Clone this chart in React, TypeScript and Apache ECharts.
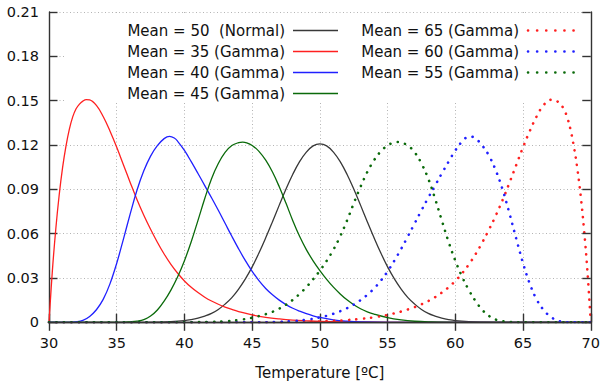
import React, { useEffect, useRef } from "react";
import * as echarts from "echarts";

const X_MIN = 30;
const X_MAX = 70;
const X_STEP = 5;
const Y_MIN = 0;
const Y_MAX = 0.21;
const Y_STEP = 0.03;

const xTitle = "Temperature [ºC]";

// Mean = 50 (Normal)
const normal50: number[][] = [
  [30, 0], [37, 0], [38, 0.0001], [39, 0.0004], [40, 0.0011], [40.5, 0.0018], [41, 0.0028],
  [41.5, 0.0042], [42, 0.006], [42.5, 0.0087], [43, 0.0123], [43.5, 0.0167], [44, 0.0225],
  [44.5, 0.0294], [45, 0.0375], [45.5, 0.0469], [46, 0.0572], [46.5, 0.0681], [47, 0.0793],
  [47.5, 0.0902], [48, 0.1002], [48.5, 0.1087], [49, 0.1152], [49.5, 0.1194], [50, 0.1208],
  [50.5, 0.1194], [51, 0.1152], [51.5, 0.1087], [52, 0.1002], [52.5, 0.0902], [53, 0.0793],
  [53.5, 0.0681], [54, 0.0572], [54.5, 0.0469], [55, 0.0375], [55.5, 0.0294], [56, 0.0225],
  [56.5, 0.0167], [57, 0.0123], [57.5, 0.0087], [58, 0.006], [58.5, 0.0042], [59, 0.0028],
  [59.5, 0.0018], [60, 0.0011], [61, 0.0004], [62, 0.0001], [63, 0], [70, 0],
];

// Mean = 35 (Gamma)
const gamma35: number[][] = [
  [30, 0], [30.25, 0.035], [30.5, 0.063], [30.75, 0.086], [31, 0.1045], [31.25, 0.119],
  [31.5, 0.1305], [31.75, 0.139], [32, 0.1445], [32.25, 0.1477], [32.5, 0.1497],
  [32.75, 0.1507], [33, 0.1505], [33.5, 0.1468], [34, 0.1393], [34.5, 0.1295], [35, 0.1185],
  [35.5, 0.1065], [36, 0.0945], [36.5, 0.083], [37, 0.0725], [37.5, 0.063], [38, 0.0542],
  [38.5, 0.0462], [39, 0.0392], [39.5, 0.0332], [40, 0.028], [40.5, 0.0237], [41, 0.0201],
  [41.5, 0.017], [42, 0.0144], [42.5, 0.0122], [43, 0.0103], [43.5, 0.0087], [44, 0.0073],
  [45, 0.005], [46, 0.0034], [47, 0.0023], [48, 0.0015], [49, 0.001], [50, 0.0006],
  [52, 0.0002], [55, 0], [70, 0],
];

// Mean = 40 (Gamma)
const gamma40: number[][] = [
  [30, 0], [31.5, 0], [32, 0.0003], [32.5, 0.0013], [33, 0.004], [33.5, 0.0085], [34, 0.0155],
  [34.5, 0.026], [35, 0.04], [35.5, 0.0565], [36, 0.0735], [36.5, 0.0895], [37, 0.1025],
  [37.5, 0.1125], [38, 0.1195], [38.5, 0.1243], [38.9, 0.1258], [39.25, 0.1247], [39.5, 0.1225],
  [40, 0.1163], [40.5, 0.1087], [41, 0.1007], [41.5, 0.0925], [42, 0.0843], [42.5, 0.0758],
  [43, 0.067], [43.5, 0.0582], [44, 0.0497], [44.5, 0.0417], [45, 0.0345], [45.5, 0.0282],
  [46, 0.0229], [46.5, 0.0186], [47, 0.015], [47.5, 0.012], [48, 0.0095], [48.5, 0.0075],
  [49, 0.0058], [49.5, 0.0044], [50, 0.0033], [51, 0.0017], [52, 0.0008], [53, 0.0003],
  [55, 0], [70, 0],
];

// Mean = 45 (Gamma)
const gamma45: number[][] = [
  [30, 0], [35.5, 0], [36, 0.0003], [36.5, 0.0008], [37, 0.0018], [37.5, 0.0042], [38, 0.0083],
  [38.5, 0.0143], [39, 0.0218], [39.5, 0.0308], [40, 0.0417], [40.5, 0.0545], [41, 0.069],
  [41.5, 0.0838], [42, 0.0972], [42.5, 0.1075], [43, 0.115], [43.5, 0.1196], [44, 0.1216],
  [44.3, 0.122], [44.6, 0.1215], [45, 0.1197], [45.5, 0.1157], [46, 0.1097], [46.5, 0.1017],
  [47, 0.0917], [47.5, 0.0805], [48, 0.0688], [48.5, 0.0582], [49, 0.0492], [49.5, 0.0416],
  [50, 0.035], [50.5, 0.0291], [51, 0.0238], [51.5, 0.0192], [52, 0.0152], [52.5, 0.0119],
  [53, 0.0092], [53.5, 0.0071], [54, 0.0055], [55, 0.0031], [56, 0.0016], [57, 0.0007],
  [58, 0.0003], [60, 0], [70, 0],
];

// Mean = 65 (Gamma)
const gamma65: number[][] = [
  [30, 0], [45, 0], [48, 0.0002], [50, 0.0006], [51, 0.001], [52, 0.0015], [53, 0.0023],
  [54, 0.0034], [55, 0.005], [56, 0.0073], [56.5, 0.0087], [57, 0.0103], [57.5, 0.0122],
  [58, 0.0144], [58.5, 0.017], [59, 0.0201], [59.5, 0.0237], [60, 0.028], [60.5, 0.0332],
  [61, 0.0392], [61.5, 0.0462], [62, 0.0542], [62.5, 0.063], [63, 0.0725], [63.5, 0.083],
  [64, 0.0945], [64.5, 0.1065], [65, 0.1185], [65.5, 0.1295], [66, 0.1393], [66.5, 0.1468],
  [67, 0.1505], [67.25, 0.1507], [67.5, 0.1497], [67.75, 0.1477], [68, 0.1445],
  [68.25, 0.139], [68.5, 0.1305], [68.75, 0.119], [69, 0.1045], [69.25, 0.086],
  [69.5, 0.063], [69.75, 0.035], [70, 0],
];

// Mean = 60 (Gamma)
const gamma60: number[][] = [
  [30, 0], [45, 0], [47, 0.0003], [48, 0.0008], [49, 0.0017], [50, 0.0033], [50.5, 0.0044],
  [51, 0.0058], [51.5, 0.0075], [52, 0.0095], [52.5, 0.012], [53, 0.015], [53.5, 0.0186],
  [54, 0.0229], [54.5, 0.0282], [55, 0.0345], [55.5, 0.0417], [56, 0.0497], [56.5, 0.0582],
  [57, 0.067], [57.5, 0.0758], [58, 0.0843], [58.5, 0.0925], [59, 0.1007], [59.5, 0.1087],
  [60, 0.1163], [60.5, 0.1225], [60.75, 0.1247], [61.1, 0.1258], [61.5, 0.1243], [62, 0.1195],
  [62.5, 0.1125], [63, 0.1025], [63.5, 0.0895], [64, 0.0735], [64.5, 0.0565], [65, 0.04],
  [65.5, 0.026], [66, 0.0155], [66.5, 0.0085], [67, 0.004], [67.5, 0.0013], [68, 0.0003],
  [68.5, 0], [70, 0],
];

// Mean = 55 (Gamma)
const gamma55: number[][] = [
  [30, 0], [40, 0], [42, 0.0003], [43, 0.0007], [44, 0.0016], [45, 0.0031], [46, 0.0055],
  [46.5, 0.0071], [47, 0.0092], [47.5, 0.0119], [48, 0.0152], [48.5, 0.0192], [49, 0.0238],
  [49.5, 0.0291], [50, 0.035], [50.5, 0.0416], [51, 0.0492], [51.5, 0.0582], [52, 0.0688],
  [52.5, 0.0805], [53, 0.0917], [53.5, 0.1017], [54, 0.1097], [54.5, 0.1157], [55, 0.1197],
  [55.4, 0.1215], [55.7, 0.122], [56, 0.1216], [56.5, 0.1196], [57, 0.115], [57.5, 0.1075],
  [58, 0.0972], [58.5, 0.0838], [59, 0.069], [59.5, 0.0545], [60, 0.0417], [60.5, 0.0308],
  [61, 0.0218], [61.5, 0.0143], [62, 0.0083], [62.5, 0.0042], [63, 0.0018], [63.5, 0.0008],
  [64, 0.0003], [64.5, 0], [70, 0],
];

const seriesNames = [
  "Mean = 50  (Normal)",
  "Mean = 35 (Gamma)",
  "Mean = 40 (Gamma)",
  "Mean = 45 (Gamma)",
  "Mean = 65 (Gamma)",
  "Mean = 60 (Gamma)",
  "Mean = 55 (Gamma)",
];
const seriesData = [normal50, gamma35, gamma40, gamma45, gamma65, gamma60, gamma55];
const seriesColors = ["#383838", "#ff2020", "#2020ff", "#0a6a0a", "#ff2020", "#2020ff", "#0a6a0a"];
const seriesDotted = [false, false, false, false, true, true, true];

const FONT = "'DejaVu Sans', Verdana, sans-serif";
const AXIS_COLOR = "#333";

export default function App() {
  const ref = useRef<HTMLDivElement>(null);

  useEffect(() => {
    if (!ref.current) return;
    const chart = echarts.init(ref.current, undefined, { renderer: "svg" });

    const series = seriesData.map((d, i) => ({
      name: seriesNames[i],
      type: "line",
      data: d,
      xAxisIndex: 0,
      yAxisIndex: 0,
      smooth: 0.4,
      showSymbol: false,
      symbol: "none",
      z: 3,
      lineStyle: seriesDotted[i]
        ? { color: seriesColors[i], width: 2.6, type: [0.1, 7.4], cap: "round" }
        : { color: seriesColors[i], width: 1.3 },
    }));

    // legend (gnuplot style key): text right-aligned, sample to the right
    const legendCols = [
      { textRight: 285, sx1: 293, sx2: 338, items: [0, 1, 2, 3] },
      { textRight: 519, sx1: 528, sx2: 575, items: [4, 5, 6] },
    ];
    const rowY = [30.5, 51.5, 72.5, 93.5];
    const legendEls: any[] = [
      {
        type: "rect",
        z: 1,
        shape: { x: 64, y: 13, width: 526, height: 89 },
        style: { fill: "#ffffff" },
        silent: true,
      },
    ];
    legendCols.forEach((col) => {
      col.items.forEach((si, r) => {
        legendEls.push({
          type: "text",
          z: 10,
          x: col.textRight,
          y: rowY[r],
          style: {
            text: seriesNames[si],
            align: "right",
            verticalAlign: "middle",
            fontSize: 15,
            fontFamily: FONT,
            fill: "#111",
          },
        });
        legendEls.push({
          type: "line",
          z: 10,
          shape: { x1: col.sx1, y1: rowY[r], x2: col.sx2, y2: rowY[r] },
          style: seriesDotted[si]
            ? { stroke: seriesColors[si], lineWidth: 2.6, lineDash: [0.1, 9], lineCap: "round" }
            : { stroke: seriesColors[si], lineWidth: 1.3 },
        });
      });
    });

    const yFmt = (v: number) => (Math.abs(v) < 1e-9 ? "0" : v.toFixed(2));

    chart.setOption({
      animation: false,
      backgroundColor: "#ffffff",
      grid: { left: 49, right: 11.5, top: 12, bottom: 64.7, containLabel: false },
      xAxis: [
        {
          type: "value",
          position: "bottom",
          min: X_MIN,
          max: X_MAX,
          interval: X_STEP,
          z: 0,
          axisLine: { show: true, lineStyle: { color: AXIS_COLOR, width: 1.4 } },
          axisTick: { show: true, inside: true, length: 8.5, lineStyle: { color: AXIS_COLOR, width: 1.4 } },
          axisLabel: { show: true, margin: 13, color: "#111", fontSize: 14.5, fontFamily: FONT },
          splitLine: { show: true, lineStyle: { color: "#b4b4b4", width: 1, type: [1, 2.5] } },
          name: xTitle,
          nameLocation: "middle",
          nameGap: 43,
          nameTextStyle: { color: "#111", fontSize: 15, fontFamily: FONT },
        },
        {
          type: "value",
          position: "top",
          min: X_MIN,
          max: X_MAX,
          interval: X_STEP,
          z: 5,
          axisLine: { show: true, lineStyle: { color: AXIS_COLOR, width: 1.4 } },
          axisTick: { show: true, inside: true, length: 8.5, lineStyle: { color: AXIS_COLOR, width: 1.4 } },
          axisLabel: { show: false },
          splitLine: { show: false },
        },
      ],
      yAxis: [
        {
          type: "value",
          position: "left",
          min: Y_MIN,
          max: Y_MAX,
          interval: Y_STEP,
          z: 0,
          axisLine: { show: true, lineStyle: { color: AXIS_COLOR, width: 1.4 } },
          axisTick: { show: true, inside: true, length: 8.5, lineStyle: { color: AXIS_COLOR, width: 1.4 } },
          axisLabel: { show: true, margin: 10, color: "#111", fontSize: 14.5, fontFamily: FONT, formatter: yFmt },
          splitLine: { show: true, lineStyle: { color: "#b4b4b4", width: 1, type: [1, 2.5] } },
        },
        {
          type: "value",
          position: "right",
          min: Y_MIN,
          max: Y_MAX,
          interval: Y_STEP,
          z: 5,
          axisLine: { show: true, lineStyle: { color: AXIS_COLOR, width: 1.4 } },
          axisTick: { show: true, inside: true, length: 8.5, lineStyle: { color: AXIS_COLOR, width: 1.4 } },
          axisLabel: { show: false },
          splitLine: { show: false },
        },
      ],
      graphic: { elements: legendEls },
      series,
    });

    return () => chart.dispose();
  }, []);

  return (
    <div
      ref={ref}
      style={{ position: "fixed", left: 0, top: 0, width: 603, height: 387, background: "#fff" }}
    />
  );
}
